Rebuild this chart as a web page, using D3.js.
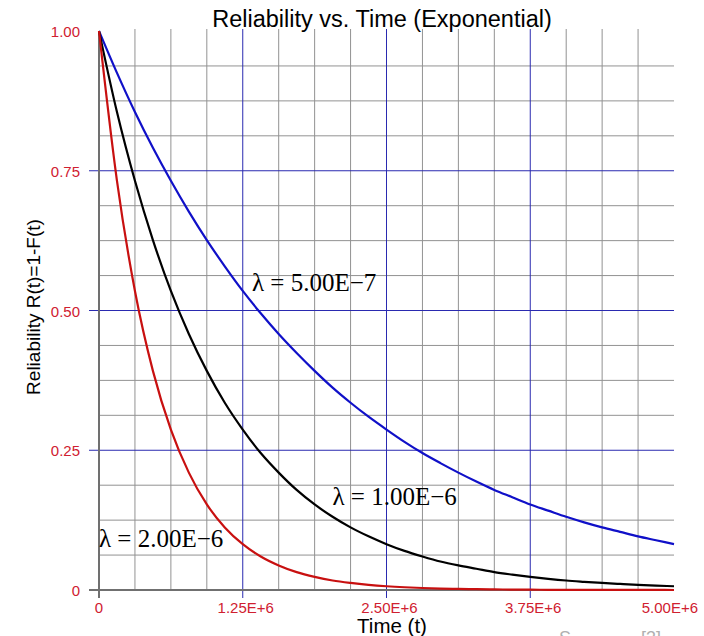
<!DOCTYPE html>
<html><head><meta charset="utf-8">
<script src="https://cdn.jsdelivr.net/npm/d3@7"></script>
<style>body{margin:0;background:#fff;}svg{display:block;}</style>
</head><body>
<script>
// ---- data ----
const times = d3.range(33).map(i => i * 156250); // sample times, 0 .. 5.00E+6
const lambda5e7 = [1.000,0.925,0.855,0.791,0.732,0.677,0.626,0.579,0.535,0.495,0.458,0.424,0.392,0.362,0.335,0.310,0.287,0.265,0.245,0.227,0.210,0.194,0.179,0.166,0.153,0.142,0.131,0.121,0.112,0.104,0.096,0.089,0.082];
const lambda1e6 = [1.000,0.855,0.732,0.626,0.535,0.458,0.392,0.335,0.287,0.245,0.210,0.179,0.153,0.131,0.112,0.096,0.082,0.070,0.060,0.051,0.044,0.038,0.032,0.0275,0.0235,0.020,0.017,0.0147,0.0126,0.0108,0.0092,0.0079,0.0067];
const lambda2e6 = [1.000,0.732,0.535,0.392,0.287,0.210,0.153,0.112,0.082,0.060,0.044,0.032,0.0235,0.017,0.0126,0.0092,0.0067,0.0049,0.0036,0.0026,0.0019,0.0014,0.0010,0.0008,0.0006,0.0004,0.0003,0.0002,0.0002,0.0001,0.0001,0.0001,0.0000];
const seriesNames = ["λ = 5.00E−7","λ = 1.00E−6","λ = 2.00E−6"];
const xMajorTicks = [0, 1.25e6, 2.5e6, 3.75e6, 5e6];
const xTickLabels = ["0","1.25E+6","2.50E+6","3.75E+6","5.00E+6"];
const yMajorTicks = [0, 0.25, 0.5, 0.75, 1.0];
const yTickLabels = ["0","0.25","0.50","0.75","1.00"];
const xMinorTicks = d3.range(17).map(i => i * 312500);
const yMinorTicks = d3.range(17).map(i => i * 0.0625);
// label anchor points (time, reliability)
const labelPos = [[1.33e6, 0.535],[2.03e6, 0.152],[0, 0.077]];

const W = 704, H = 636;
const m = {left: 99, right: 30, top: 31, bottom: 46};
const svg = d3.select("body").append("svg").attr("width", W).attr("height", H);
const x = d3.scaleLinear().domain([0, 5e6]).range([m.left, W - m.right]);
const y = d3.scaleLinear().domain([0, 1]).range([H - m.bottom, m.top]);
const SANS = "Liberation Sans, Arial, sans-serif";

const g = svg.append("g");
// minor grid
g.selectAll(".vmin").data(xMinorTicks.filter(t => t > 0 && t < 5e6 && t % 1.25e6 !== 0)).enter().append("line")
  .attr("x1", d => x(d)).attr("x2", d => x(d)).attr("y1", y(1) - 2).attr("y2", y(0))
  .attr("stroke", "#929292").attr("stroke-width", 1);
g.selectAll(".hmin").data(yMinorTicks.filter(t => t > 0 && t < 1 && Math.abs(t / 0.25 - Math.round(t / 0.25)) > 1e-6)).enter().append("line")
  .attr("x1", x(0)).attr("x2", x(5e6)).attr("y1", d => y(d)).attr("y2", d => y(d))
  .attr("stroke", "#929292").attr("stroke-width", 1);
// major grid (blue)
g.selectAll(".vmaj").data(xMajorTicks.filter(t => t > 0 && t < 5e6)).enter().append("line")
  .attr("x1", d => x(d)).attr("x2", d => x(d)).attr("y1", y(1) - 2).attr("y2", y(0) + 8)
  .attr("stroke", "#2a2ab0").attr("stroke-width", 1);
g.selectAll(".hmaj").data(yMajorTicks.filter(t => t > 0 && t < 1)).enter().append("line")
  .attr("x1", x(0) - 10).attr("x2", x(5e6)).attr("y1", d => y(d)).attr("y2", d => y(d))
  .attr("stroke", "#2a2ab0").attr("stroke-width", 1);
// axes
g.append("line").attr("x1", x(0)).attr("x2", x(0)).attr("y1", y(1)).attr("y2", y(0) + 8)
  .attr("stroke", "#707070").attr("stroke-width", 2);
g.append("line").attr("x1", x(0) - 10).attr("x2", x(5e6)).attr("y1", y(0)).attr("y2", y(0))
  .attr("stroke", "#707070").attr("stroke-width", 2);

// tick labels
g.selectAll(".yl").data(yMajorTicks).enter().append("text")
  .attr("x", x(0) - 19).attr("y", d => y(d) + 6)
  .attr("text-anchor", "end").attr("font-family", SANS)
  .attr("font-size", 15).attr("fill", "#d02030").text((d, i) => yTickLabels[i]);
const last = xMajorTicks.length - 1;
g.selectAll(".xl").data(xMajorTicks).enter().append("text")
  .attr("x", (d, i) => i === 0 ? x(d) : (i === last ? x(d) + 24 : x(d) + 3))
  .attr("y", y(0) + 23)
  .attr("text-anchor", (d, i) => i === last ? "end" : "middle").attr("font-family", SANS)
  .attr("font-size", 15).attr("fill", "#d02030").text((d, i) => xTickLabels[i]);

// curves
const line = d3.line().x((d, i) => x(times[i])).y(d => y(d)).curve(d3.curveMonotoneX);
const series = [lambda5e7, lambda1e6, lambda2e6];
const colors = ["#1010c8", "#000000", "#c81010"];
svg.selectAll(".curve").data(series).enter().append("path")
  .attr("d", d => line(d)).attr("fill", "none")
  .attr("stroke", (d, i) => colors[i]).attr("stroke-width", 2.2);

// annotations
svg.selectAll(".ann").data(seriesNames).enter().append("text")
  .attr("x", (d, i) => x(labelPos[i][0])).attr("y", (d, i) => y(labelPos[i][1]))
  .attr("font-family", "Liberation Serif, Times New Roman, serif")
  .attr("font-size", 25).attr("fill", "#000").text(d => d);

// titles
svg.append("text").attr("x", 382).attr("y", 27).attr("text-anchor", "middle")
  .attr("font-family", SANS).attr("font-size", 23.5).attr("fill", "#000")
  .text("Reliability vs. Time (Exponential)");
svg.append("text").attr("x", 392).attr("y", 633).attr("text-anchor", "middle")
  .attr("font-family", SANS).attr("font-size", 20.5).attr("fill", "#000")
  .text("Time (t)");
svg.append("text").attr("transform", "translate(40,307) rotate(-90)").attr("text-anchor", "middle")
  .attr("font-family", SANS).attr("font-size", 19).attr("fill", "#000")
  .text("Reliability R(t)=1-F(t)");
svg.append("text").attr("x", 559).attr("y", 644)
  .attr("font-family", SANS).attr("font-size", 18).attr("fill", "#b0b0b0")
  .attr("xml:space", "preserve").text("S              [3]");
</script>
</body></html>
